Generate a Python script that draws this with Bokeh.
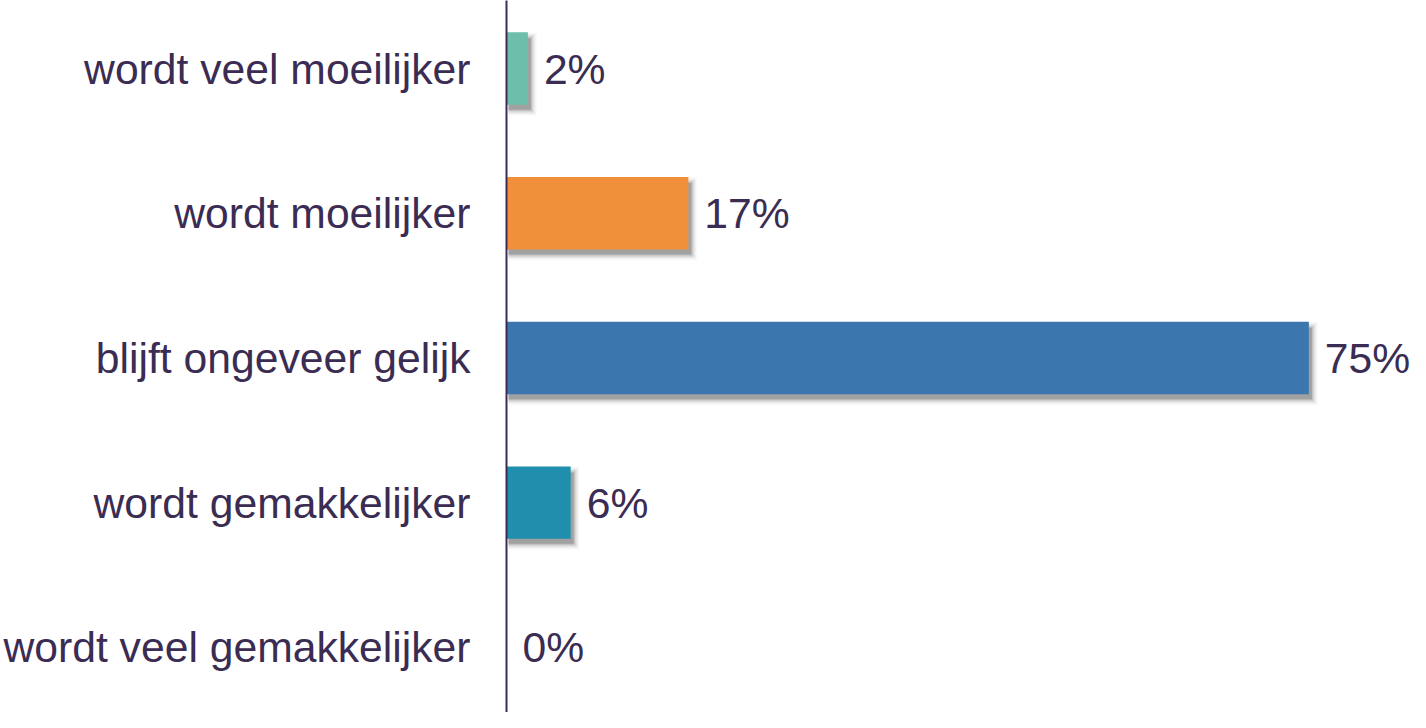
from bokeh.plotting import figure
from bokeh.models import Range1d, FixedTicker, ColumnDataSource
from bokeh.core.properties import value
from bokeh.embed import file_html
from bokeh.resources import INLINE

categories = ["wordt veel moeilijker", "wordt moeilijker", "blijft ongeveer gelijk",
              "wordt gemakkelijker", "wordt veel gemakkelijker"]
values = [2, 17, 75, 6, 0]
colors = ["#6dbfac", "#f0903b", "#3b77ae", "#1f8fad", "#888888"]

idx = list(range(len(categories)))
FONT = "Liberation Sans"
TXT = "#3a2c52"

p = figure(width=1410, height=712, output_backend="svg", toolbar_location=None,
           x_range=Range1d(0, 84.5), y_range=Range1d(4.45, -0.47),
           min_border_left=506, min_border_right=0, min_border_top=0, min_border_bottom=0)
p.outline_line_color = None
p.xgrid.visible = False
p.ygrid.visible = False
p.xaxis.visible = False
p.background_fill_color = "white"

# pixel scale helpers (for shadow offsets only)
px_x = 84.5 / (1410 - 506)
px_y = (4.45 + 0.47) / 712
h = 0.25

# soft drop shadow: layered translucent quads
sy = [k for k, v in zip(idx, values) if v > 0]
sv = [v for v in values if v > 0]
for i, a in enumerate([0.20, 0.12, 0.08, 0.06, 0.045, 0.03, 0.02]):
    e = i
    src = ColumnDataSource(dict(
        left=[2 * px_x for _ in sv],
        right=[v + (3 + e) * px_x for v in sv],
        top=[k - h + (6 - e) * px_y for k in sy],
        bottom=[k + h + (5 + e) * px_y for k in sy],
    ))
    p.quad(left="left", right="right", top="top", bottom="bottom", source=src,
           fill_color="#333333", fill_alpha=a, line_color=None)

bars = ColumnDataSource(dict(y=idx, v=values, c=colors,
                             lab=[f"{v}%" for v in values]))
p.hbar(y="y", left=0, right="v", height=2 * h, fill_color="c", line_color=None,
       source=ColumnDataSource(dict(y=sy, v=sv,
                                    c=[c for c, v in zip(colors, values) if v > 0])))

p.text(x="v", y="y", text="lab", source=bars, x_offset=16, text_baseline="middle",
       text_align="left", text_font=value(FONT), text_font_size="32pt", text_color=TXT)

yax = p.yaxis[0]
yax.ticker = FixedTicker(ticks=idx)
yax.major_label_overrides = {k: c for k, c in zip(idx, categories)}
yax.major_label_text_font = FONT
yax.major_label_text_font_size = "32pt"
yax.major_label_text_color = TXT
yax.major_label_standoff = 30
yax.major_tick_line_color = None
yax.minor_tick_line_color = None
yax.axis_line_color = "#3d2b56"
yax.axis_line_width = 2

open("out.html", "w").write(file_html(p, INLINE))
